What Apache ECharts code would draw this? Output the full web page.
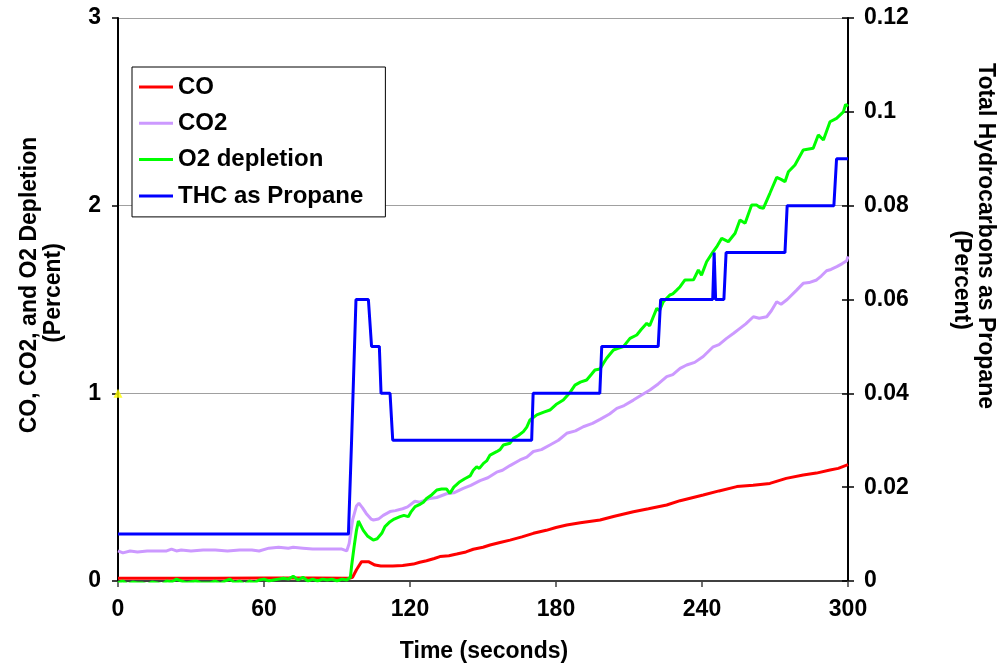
<!DOCTYPE html>
<html>
<head>
<meta charset="utf-8">
<script src="https://cdn.jsdelivr.net/npm/echarts@6/dist/echarts.min.js"></script>
<style>
html,body{margin:0;padding:0;background:#fff;}
#chart{width:998px;height:663px;}
</style>
</head>
<body>
<div id="chart"></div>
<script>
// ---- data (time in seconds, value in percent) ----
const seriesNames = ['CO', 'CO2', 'O2 depletion', 'THC as Propane'];
const xTicks = [0, 60, 120, 180, 240, 300];
const leftTicks = [0, 1, 2, 3];
const rightTicks = [0, 0.02, 0.04, 0.06, 0.08, 0.1, 0.12];

const coData = [
  [0,0.015],[20,0.015],[40,0.015],[60,0.016],[80,0.016],[95,0.015],[96.4,0.02],[98,0.06],[100.1,0.103],[102.9,0.103],
  [105.6,0.085],[108,0.08],[112.9,0.08],[117,0.083],[121.4,0.09],[124,0.1],[126.8,0.108],[130,0.12],[132.3,0.13],
  [136,0.135],[139.2,0.144],[143,0.155],[146,0.169],[150,0.18],[152.9,0.192],[157,0.205],[161.1,0.218],[166,0.235],
  [170.7,0.254],[176,0.27],[180,0.285],[184.4,0.298],[190,0.31],[198.1,0.325],[204,0.345],[211.8,0.369],[218,0.385],
  [225.5,0.405],[231,0.428],[240.5,0.458],[247,0.48],[254.3,0.503],[261,0.51],[267.9,0.52],[274.6,0.547],[281.6,0.565],
  [287,0.575],[292.6,0.591],[296,0.6],[300,0.62]
];

const co2Data = [
  [0,0.16],[2,0.15],[5,0.16],[8,0.155],[12,0.16],[16,0.16],[20,0.16],[22,0.17],[24,0.16],[26,0.165],[30,0.16],[35,0.165],
  [40,0.165],[45,0.16],[50,0.165],[55,0.165],[58,0.16],[62,0.175],[66,0.18],[70,0.175],[72,0.18],[76,0.175],[80,0.17],
  [84,0.17],[88,0.17],[92,0.17],[94,0.16],[95,0.2],[96.5,0.33],[98,0.4],[99,0.415],[100.5,0.39],[102,0.36],[104,0.33],
  [105,0.325],[107,0.33],[109,0.35],[111.8,0.37],[114,0.375],[117,0.385],[119,0.395],[122,0.425],[124,0.42],[126,0.43],
  [128.2,0.44],[131,0.445],[135,0.465],[138,0.47],[141.9,0.494],[145,0.51],[148.8,0.535],[152,0.55],[155.6,0.58],
  [158,0.59],[161.1,0.615],[165.2,0.645],[168,0.66],[170.7,0.69],[174,0.7],[177.5,0.725],[181,0.75],[184.4,0.787],
  [188,0.8],[191.2,0.822],[195,0.84],[198.1,0.861],[202,0.89],[205,0.92],[208,0.935],[211.8,0.964],[215,0.99],
  [218.6,1.018],[222,1.05],[225.5,1.089],[228,1.1],[231,1.133],[233.7,1.151],[237,1.165],[240.5,1.196],[244.6,1.248],
  [247,1.26],[250.1,1.293],[253,1.32],[255.6,1.346],[258,1.37],[261.1,1.408],[263.5,1.4],[266.6,1.408],[268.5,1.44],
  [270.7,1.488],[272.5,1.475],[275,1.5],[278.9,1.55],[281.6,1.586],[284,1.59],[287.1,1.604],[289,1.625],[291.2,1.653],
  [293,1.66],[295.4,1.675],[297.5,1.69],[299.5,1.707],[300,1.73]
];

const o2Data = [
  [0,-0.01],[2,0],[4,-0.02],[6,-0.005],[8,-0.01],[10,-0.01],[12,-0.02],[14,-0.005],[16,-0.01],[18,-0.02],[20,0],
  [22,-0.005],[24,0.01],[26,0],[28,-0.01],[30,-0.005],[32,0],[34,-0.01],[36,-0.01],[38,-0.01],[40,0],[42,-0.015],
  [44,0],[46,0.01],[48,-0.01],[50,0],[52,-0.02],[54,0],[56,-0.01],[58,0.005],[60,0.01],[62,0],[64,0.005],[66,0.01],
  [68,0.015],[70,0.01],[72,0.025],[74,0.005],[76,0.02],[78,0],[80,0.01],[82,0],[84,0.01],[86,0.005],[88,0.01],[90,0],
  [92,0.01],[94,0.005],[95.5,0.02],[96,0.08],[97,0.18],[98,0.27],[98.8,0.32],[100,0.29],[100.8,0.27],[102.5,0.24],
  [104.9,0.218],[106.5,0.225],[108.4,0.254],[109.7,0.29],[111.8,0.316],[113.5,0.33],[115.9,0.343],[117.5,0.35],
  [119.3,0.343],[120.5,0.37],[122.1,0.396],[124.3,0.41],[125.5,0.42],[126.8,0.44],[129,0.46],[131,0.485],[133,0.49],
  [135,0.49],[136.4,0.467],[138,0.5],[140.5,0.529],[142.5,0.545],[144.7,0.56],[146,0.59],[147.4,0.609],[148.5,0.6],
  [150.2,0.627],[151.5,0.64],[152.9,0.671],[155.6,0.689],[157,0.7],[158.4,0.725],[161.1,0.734],[162.5,0.76],
  [164.5,0.775],[166.6,0.796],[168,0.82],[169.3,0.858],[172.1,0.885],[175,0.9],[177.5,0.911],[180,0.94],[183,0.964],
  [185.5,1.0],[187.8,1.044],[190,1.06],[192.6,1.071],[194.5,1.1],[196,1.124],[198.1,1.13],[199.5,1.16],[200.8,1.187],
  [203.6,1.231],[205.5,1.24],[207.7,1.249],[210.4,1.293],[213.2,1.311],[215,1.34],[217.3,1.373],[218.5,1.36],
  [220,1.408],[221.4,1.453],[222.5,1.44],[224.1,1.488],[226.8,1.524],[228,1.53],[229.6,1.55],[231,1.568],[233,1.604],
  [236.5,1.605],[238.5,1.657],[239.8,1.63],[241.9,1.701],[244.6,1.755],[246,1.78],[248.1,1.826],[250.8,1.808],
  [253.6,1.853],[255.6,1.924],[257.7,1.906],[260.4,2.003],[262.5,2.003],[263.8,1.99],[265.2,1.986],[267.9,2.066],
  [270.7,2.151],[272.5,2.14],[274.1,2.128],[275.5,2.181],[278.2,2.217],[281.6,2.297],[285.7,2.306],[287.8,2.377],
  [289.9,2.35],[292.6,2.447],[295.3,2.465],[298.1,2.5],[299,2.54],[300,2.53]
];

const thcData = [
  [0,0.01],[94.7,0.01],[96,0.03],[97.8,0.06],[102.9,0.06],[104.2,0.05],[107.4,0.05],[108.1,0.04],[111.8,0.04],
  [112.9,0.03],[170,0.03],[170.6,0.04],[198,0.04],[198.8,0.05],[222,0.05],[223,0.06],[244.4,0.06],[245,0.07],
  [245.6,0.06],[249,0.06],[249.9,0.07],[274.1,0.07],[275,0.08],[294.2,0.08],[295.3,0.09],[300,0.09]
];

const markerPoint = [[0, 1]];

// ---- chart ----
const FONT = '"Liberation Sans", Arial, sans-serif';
const chart = echarts.init(document.getElementById('chart'), null, {renderer: 'canvas'});
const labelStyle = {fontFamily: FONT, fontWeight: 'bold', fontSize: 23, color: '#000'};

chart.setOption({
  animation: false,
  backgroundColor: '#fff',
  grid: {left: 118, right: 150, top: 18, bottom: 82, containLabel: false},
  legend: {
    data: seriesNames,
    orient: 'vertical',
    left: 132, top: 67,
    padding: [8, 22, 9, 7],
    itemGap: 12.3,
    itemWidth: 34, itemHeight: 3,
    icon: 'rect',
    borderColor: '#000', borderWidth: 1,
    backgroundColor: '#fff',
    textStyle: {fontFamily: FONT, fontWeight: 'bold', fontSize: 24, color: '#000', lineHeight: 24}
  },
  xAxis: {
    type: 'value', min: xTicks[0], max: xTicks[xTicks.length - 1], interval: 60,
    axisLine: {show: true, onZero: false, lineStyle: {color: '#404040', width: 2}},
    axisTick: {show: true, inside: false, length: 6, lineStyle: {color: '#404040', width: 1.5}},
    splitLine: {show: false},
    axisLabel: Object.assign({margin: 17}, labelStyle)
  },
  yAxis: [
    {
      type: 'value', position: 'left', min: leftTicks[0], max: leftTicks[leftTicks.length - 1], interval: 1,
      axisLine: {show: true, lineStyle: {color: '#000', width: 2}},
      axisTick: {show: true, inside: false, length: 6, lineStyle: {color: '#000', width: 1.5}},
      splitLine: {show: true, lineStyle: {color: '#a0a0a0', width: 1}},
      axisLabel: Object.assign({margin: 17}, labelStyle)
    },
    {
      type: 'value', position: 'right', min: rightTicks[0], max: rightTicks[rightTicks.length - 1], interval: 0.02,
      axisLine: {show: true, lineStyle: {color: '#000', width: 2}},
      axisTick: {show: true, inside: false, length: 6, lineStyle: {color: '#000', width: 1.5}},
      splitLine: {show: false},
      axisLabel: Object.assign({margin: 16, formatter: v => String(+v.toFixed(2))}, labelStyle)
    },
    {
      type: 'value', position: 'right', offset: 0, min: rightTicks[0], max: rightTicks[rightTicks.length - 1], interval: 0.02,
      axisLine: {show: false},
      axisTick: {show: true, inside: true, length: 6, lineStyle: {color: '#000', width: 1.5}},
      splitLine: {show: false},
      axisLabel: {show: false}
    }
  ],
  graphic: [
    {type: 'text', x: 30, y: 285, rotation: Math.PI / 2,
     style: {text: 'CO, CO2, and O2 Depletion', font: 'bold 23px ' + FONT, fill: '#000', textAlign: 'center', textVerticalAlign: 'middle'}},
    {type: 'text', x: 54, y: 293, rotation: Math.PI / 2,
     style: {text: '(Percent)', font: 'bold 23px ' + FONT, fill: '#000', textAlign: 'center', textVerticalAlign: 'middle'}},
    {type: 'text', x: 985, y: 236, rotation: -Math.PI / 2,
     style: {text: 'Total Hydrocarbons as Propane', font: 'bold 23px ' + FONT, fill: '#000', textAlign: 'center', textVerticalAlign: 'middle'}},
    {type: 'text', x: 961, y: 280, rotation: -Math.PI / 2,
     style: {text: '(Percent)', font: 'bold 23px ' + FONT, fill: '#000', textAlign: 'center', textVerticalAlign: 'middle'}},
    {type: 'text', x: 484, y: 652,
     style: {text: 'Time (seconds)', font: 'bold 23px ' + FONT, fill: '#000', textAlign: 'center', textVerticalAlign: 'middle'}}
  ],
  series: [
    {name: seriesNames[0], type: 'line', yAxisIndex: 0, data: coData, showSymbol: false, symbol: 'none',
     color: '#FF0000', lineStyle: {width: 3, color: '#FF0000'}},
    {name: seriesNames[1], type: 'line', yAxisIndex: 0, data: co2Data, showSymbol: false, symbol: 'none',
     color: '#CC99FF', lineStyle: {width: 3, color: '#CC99FF'}},
    {name: seriesNames[2], type: 'line', yAxisIndex: 0, data: o2Data, showSymbol: false, symbol: 'none',
     color: '#00FF00', lineStyle: {width: 3, color: '#00FF00'}},
    {name: seriesNames[3], type: 'line', yAxisIndex: 1, data: thcData, showSymbol: false, symbol: 'none',
     color: '#0000FF', lineStyle: {width: 3, color: '#0000FF'}},
    {name: 'marker', type: 'scatter', yAxisIndex: 0, data: markerPoint, symbol: 'triangle', symbolSize: 9,
     clip: false, z: 5, itemStyle: {color: '#FFFF00'}, silent: true}
  ]
});
</script>
</body>
</html>
